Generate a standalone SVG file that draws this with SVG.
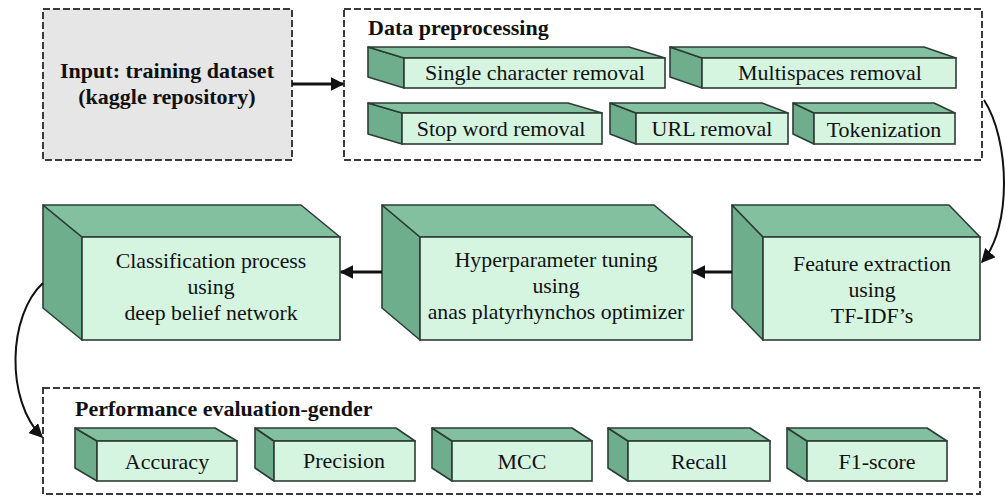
<svg xmlns="http://www.w3.org/2000/svg" width="1006" height="497" viewBox="0 0 1006 497">
<style>
.dash{fill:none;stroke:#3a3a3a;stroke-width:2;stroke-dasharray:7 3}
.front{fill:#d5f5e0;stroke:#2d3d35;stroke-width:1.6}
.top{fill:#82c09f;stroke:#2d3d35;stroke-width:1.6;stroke-linejoin:round}
.side{fill:#6eae8d;stroke:#2d3d35;stroke-width:1.6;stroke-linejoin:round}
text{font-family:"Liberation Serif","Times New Roman",serif;fill:#111}
.t{text-anchor:middle;font-weight:normal}
.s{font-size:22px}
.m{font-size:21.8px}
.b{font-weight:bold;font-size:22px}
.conn{fill:none;stroke:#111;stroke-width:3}
</style>
<defs>
<marker id="ah" viewBox="0 0 10 10" refX="9" refY="5" markerWidth="4.5" markerHeight="4.5" orient="auto" markerUnits="strokeWidth">
<path d="M0,0 L10,5 L0,10 z" fill="#111"/>
</marker>
<marker id="ah2" viewBox="0 0 10 10" refX="9" refY="5" markerWidth="7" markerHeight="7" orient="auto" markerUnits="strokeWidth">
<path d="M0,0 L10,5 L0,10 z" fill="#111"/>
</marker>
</defs>
<rect width="1006" height="497" fill="#ffffff"/>

<g id="input">
<rect x="43" y="9" width="249" height="151" class="dash" style="fill:#e6e6e6"/>
<text class="b" x="167" y="78" text-anchor="middle">Input: training dataset</text>
<text class="b" x="167" y="104" text-anchor="middle">(kaggle repository)</text>
</g>

<g id="preprocessing">
<rect x="344" y="9" width="638" height="151" class="dash"/>
<text class="b" x="368" y="35">Data preprocessing</text>
</g>

<g id="single-char">
<polygon class="side" points="368,47 404,58 404,88 368,77"/>
<polygon class="top" points="368,47 629,47 665,58 404,58"/>
<rect class="front" x="404" y="58" width="261" height="30"/>
<text class="t s" x="535" y="80">Single character removal</text>
</g>
<g id="multispaces">
<polygon class="side" points="670,47 702,58 702,88 670,77"/>
<polygon class="top" points="670,47 924,47 956,58 702,58"/>
<rect class="front" x="702" y="58" width="254" height="30"/>
<text class="t s" x="830" y="80">Multispaces removal</text>
</g>
<g id="stopword">
<polygon class="side" points="368,103 402,113 402,144 368,134"/>
<polygon class="top" points="368,103 568,103 602,113 402,113"/>
<rect class="front" x="402" y="113" width="200" height="31"/>
<text class="t s" x="501" y="136">Stop word removal</text>
</g>
<g id="url">
<polygon class="side" points="610,103 636,113 636,144 610,134"/>
<polygon class="top" points="610,103 762,103 788,113 636,113"/>
<rect class="front" x="636" y="113" width="152" height="31"/>
<text class="t s" x="712" y="136">URL removal</text>
</g>
<g id="tokenization">
<polygon class="side" points="793,103 814,113 814,144 793,134"/>
<polygon class="top" points="793,103 934,103 955,113 814,113"/>
<rect class="front" x="814" y="113" width="141" height="31"/>
<text class="t s" x="884" y="137">Tokenization</text>
</g>

<g id="classification">
<polygon class="side" points="43,205 82,237 82,340 43,308"/>
<polygon class="top" points="43,205 301,205 340,237 82,237"/>
<rect class="front" x="82" y="237" width="258" height="103"/>
<text class="t m" x="211" y="268">Classification process</text>
<text class="t m" x="211" y="294">using</text>
<text class="t m" x="211" y="320">deep belief network</text>
</g>
<g id="hyperparameter">
<polygon class="side" points="382,205 420,237 420,340 382,308"/>
<polygon class="top" points="382,205 654,205 692,237 420,237"/>
<rect class="front" x="420" y="237" width="272" height="103"/>
<text class="t m" x="556" y="267">Hyperparameter tuning</text>
<text class="t m" x="556" y="293">using</text>
<text class="t m" x="556" y="319">anas platyrhynchos optimizer</text>
</g>
<g id="feature">
<polygon class="side" points="732,205 763,237 763,340 732,308"/>
<polygon class="top" points="732,205 949,205 980,237 763,237"/>
<rect class="front" x="763" y="237" width="217" height="103"/>
<text class="t m" x="872" y="271">Feature extraction</text>
<text class="t m" x="872" y="297">using</text>
<text class="t m" x="872" y="323">TF-IDF’s</text>
</g>

<g id="performance">
<rect x="43" y="388" width="937" height="106" class="dash"/>
<text class="b" x="75" y="416">Performance evaluation-gender</text>
</g>
<g id="accuracy">
<polygon class="side" points="75,428 97,441 97,481 75,468"/>
<polygon class="top" points="75,428 215,428 237,441 97,441"/>
<rect class="front" x="97" y="441" width="140" height="40"/>
<text class="t s" x="167" y="469">Accuracy</text>
</g>
<g id="precision">
<polygon class="side" points="255,428 274,441 274,481 255,468"/>
<polygon class="top" points="255,428 396,428 415,441 274,441"/>
<rect class="front" x="274" y="441" width="141" height="40"/>
<text class="t s" x="344" y="468">Precision</text>
</g>
<g id="mcc">
<polygon class="side" points="432,428 452,441 452,481 432,468"/>
<polygon class="top" points="432,428 572,428 592,441 452,441"/>
<rect class="front" x="452" y="441" width="140" height="40"/>
<text class="t s" x="522" y="469">MCC</text>
</g>
<g id="recall">
<polygon class="side" points="608,428 628,441 628,481 608,468"/>
<polygon class="top" points="608,428 750,428 770,441 628,441"/>
<rect class="front" x="628" y="441" width="142" height="40"/>
<text class="t s" x="699" y="469">Recall</text>
</g>
<g id="f1score">
<polygon class="side" points="787,428 807,441 807,481 787,468"/>
<polygon class="top" points="787,428 927,428 947,441 807,441"/>
<rect class="front" x="807" y="441" width="140" height="40"/>
<text class="t s" x="877" y="469">F1-score</text>
</g>

<g id="connectors">
<line class="conn" x1="292" y1="84" x2="343" y2="84" marker-end="url(#ah)"/>
<path d="M984,100 C1010,140 1012,228 982,262" fill="none" stroke="#111" stroke-width="2" marker-end="url(#ah2)"/>
<line class="conn" x1="732" y1="272" x2="693" y2="272" marker-end="url(#ah)"/>
<line class="conn" x1="382" y1="272" x2="341" y2="272" marker-end="url(#ah)"/>
<path d="M43,283 C8,315 5,400 42,437" fill="none" stroke="#111" stroke-width="2" marker-end="url(#ah2)"/>
</g>
</svg>
